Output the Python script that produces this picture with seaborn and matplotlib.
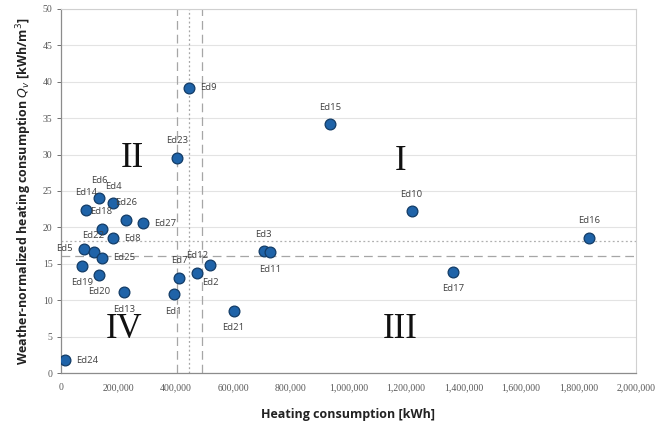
import matplotlib
matplotlib.use("Agg")
import matplotlib.pyplot as plt
import seaborn as sns
import pandas as pd

names = ["Ed1", "Ed2", "Ed3", "Ed4", "Ed5", "Ed6", "Ed7", "Ed8", "Ed9", "Ed10",
         "Ed11", "Ed12", "Ed13", "Ed14", "Ed15", "Ed16", "Ed17", "Ed18", "Ed19", "Ed20",
         "Ed21", "Ed22", "Ed23", "Ed24", "Ed25", "Ed26", "Ed27"]
heating = [392000, 519000, 705000, 182000, 81000, 133000, 411600, 182000, 445000, 1219800,
           728000, 473000, 219000, 87000, 935600, 1836500, 1363500, 141500, 74000, 132000,
           600600, 113700, 402400, 12800, 141500, 227000, 285000]
qv = [10.8, 14.8, 16.7, 23.3, 17.1, 24.1, 13.1, 18.5, 39.2, 22.25,
      16.6, 13.8, 11.1, 22.4, 34.2, 18.6, 13.9, 19.8, 14.7, 13.5,
      8.56, 16.6, 29.6, 1.74, 15.8, 21.06, 20.6]
label_pos = ["below", "below", "above", "above", "left", "above", "above", "right", "right", "above",
             "below", "above", "below", "above", "above", "above", "below", "above", "below", "below",
             "below", "above", "above", "right", "right", "above", "right"]

vlines_dashed = [402000, 491000]
vlines_dotted = [445000]
hlines_dashed = [16.07]
hlines_dotted = [18.17]

quadrants = ["I", "II", "III", "IV"]
quad_x = [1180000, 250000, 1180000, 220000]
quad_y = [29.0, 29.5, 6.0, 6.0]

df = pd.DataFrame({"name": names, "heating": heating, "qv": qv})

sns.set_theme(style="white")
fig = plt.figure(figsize=(6.71, 4.26), dpi=100)
ax = fig.add_axes([0.0909, 0.1244, 0.8569, 0.8545])

ax.set_xlim(0, 2000000)
ax.set_ylim(0, 50)
ax.set_yticks(range(0, 51, 5))
ax.set_xticks(range(0, 2000001, 200000))
ax.yaxis.grid(True, color="#e3e3e3", linewidth=0.8)
ax.set_axisbelow(True)

for v in vlines_dashed:
    ax.axvline(v, color="#a6a6a6", linestyle=(0, (7, 4)), linewidth=0.9, zorder=1)
for v in vlines_dotted:
    ax.axvline(v, color="#a6a6a6", linestyle=(0, (1.5, 2)), linewidth=0.9, zorder=1)
for h in hlines_dashed:
    ax.axhline(h, color="#a6a6a6", linestyle=(0, (7, 4)), linewidth=0.9, zorder=1)
for h in hlines_dotted:
    ax.axhline(h, color="#b0b0b0", linestyle=(0, (1.5, 2)), linewidth=0.9, zorder=1)

sns.scatterplot(data=df, x="heating", y="qv", ax=ax, s=60, color="#1f63a8",
                edgecolor="#123b66", linewidth=0.9, zorder=3, legend=False)

offsets = {"above": (0, 9, "center", "bottom"),
           "below": (0, -9, "center", "top"),
           "right": (8, 0, "left", "center"),
           "left": (-8, 0, "right", "center")}
for n, x, y, p in zip(names, heating, qv, label_pos):
    dx, dy, ha, va = offsets[p]
    ax.annotate(n, (x, y), xytext=(dx, dy), textcoords="offset points",
                ha=ha, va=va, fontsize=6.8, color="#404040", family="Open Sans")

for q, x, y in zip(quadrants, quad_x, quad_y):
    ax.text(x, y, q, fontsize=25, family="Liberation Serif", ha="center", va="center",
            color="#111111")

ax.set_xticklabels([f"{v:,}" for v in range(0, 2000001, 200000)])
ax.tick_params(axis="both", labelsize=7, colors="#595959", length=3, width=0.6,
               direction="out", bottom=False, left=True)
for lab in ax.get_xticklabels() + ax.get_yticklabels():
    lab.set_family("Liberation Serif")
ax.tick_params(axis="x", pad=4.5)
ax.tick_params(axis="y", pad=3)

for side in ["left", "bottom"]:
    ax.spines[side].set_color("#8c8c8c")
    ax.spines[side].set_linewidth(0.9)
for side in ["top", "right"]:
    ax.spines[side].set_color("#d0d0d0")
    ax.spines[side].set_linewidth(0.8)

ax.set_xlabel("Heating consumption [kWh]", fontsize=9, fontweight="bold",
              family="Open Sans", color="#222222", labelpad=11)
ax.set_ylabel(r"Weather-normalized heating consumption $\mathit{Q}_{v}$ [kWh/m$^{3}$]",
              fontsize=9, fontweight="bold", family="Open Sans", color="#222222", labelpad=6)

fig.savefig("out.png", dpi=100)
